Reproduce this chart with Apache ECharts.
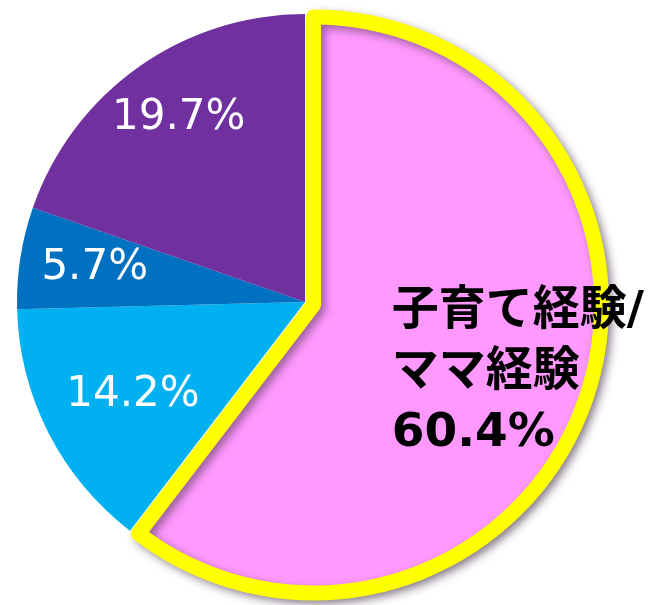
<!DOCTYPE html>
<html>
<head>
<meta charset="utf-8">
<script src="https://cdn.jsdelivr.net/npm/echarts@6/dist/echarts.min.js"></script>
<style>
  html, body { margin: 0; padding: 0; background: #fff; }
  #chart { width: 652px; height: 605px; }
</style>
</head>
<body>
<div id="chart"></div>
<script>
  // slices, clockwise from 12 o'clock
  const names = ['子育て経験/\nママ経験', 'B', 'C', 'D']
  const values = [60.4, 14.2, 5.7, 19.7]
  const colors = ['#FF99FF', '#00B0F0', '#0070C0', '#7030A0']
  // label nudges from the default inside spot
  const labelShift = [[-61, 21], [-41, 26], [-65, -11], [-41, -64]]

  const chart = echarts.init(document.getElementById('chart'))

  const seriesData = values.map(function (v, i) {
    const item = { name: names[i], value: v, itemStyle: { color: colors[i], borderWidth: 0 } }
    if (i === 0) {
      const pinkStyle = {
        color: colors[0],
        borderColor: '#FFFF00',
        borderWidth: 15,
        borderJoin: 'round',
        shadowColor: 'rgba(60,40,60,0.5)',
        shadowBlur: 8,
        shadowOffsetX: 4,
        shadowOffsetY: 4
      }
      item.selected = true
      item.itemStyle = pinkStyle
      item.select = { itemStyle: pinkStyle }
      item.label = {
        color: '#000',
        fontWeight: 'bold',
        fontSize: 47,
        lineHeight: 61,
        formatter: function (p) { return p.name + '\n' + p.value + '%' }
      }
    }
    return item
  })

  chart.setOption({
    animation: false,
    series: [{
      type: 'pie',
      center: [305, 302],
      radius: 288,
      startAngle: 90,
      clockwise: true,
      selectedMode: 'single',
      selectedOffset: 9,
      silent: true,
      label: {
        show: true,
        position: 'inside',
        color: '#fff',
        fontSize: 42,
        fontFamily: '"DejaVu Sans", "Noto Sans CJK JP"',
        formatter: '{c}%'
      },
      labelLine: { show: false },
      labelLayout: function (p) {
        const s = labelShift[p.dataIndex]
        const out = { dx: s[0], dy: s[1] }
        if (p.dataIndex === 0) out.align = 'left'
        return out
      },
      emphasis: { disabled: true },
      data: seriesData
    }]
  })
</script>
</body>
</html>
